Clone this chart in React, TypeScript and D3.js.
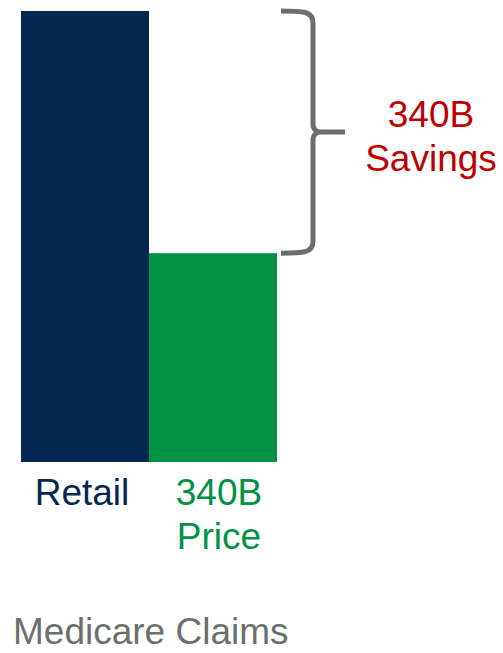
import React from "react";
import * as d3 from "d3";

const categories = ["Retail", "340B Price"];
const values = [100, 46.3];
const labelLines = [["Retail"], ["340B", "Price"]];
const braceLabel = ["340B", "Savings"];
const axisTitle = "Medicare Claims";

const W = 503;
const H = 653;
const FONT = "'Liberation Sans', Arial, Helvetica, sans-serif";
const barColors = ["#032751", "#009245"];
const labelColors = ["#032751", "#009245"];
const FS = 37;

export default function App() {
  const x = d3.scaleBand<string>().domain(categories).range([21, 277]).padding(0);
  const y = d3.scaleLinear().domain([0, 100]).range([462, 11]);
  const bw = x.bandwidth();

  const top = y(values[0]);
  const low = y(values[1]);
  const mid = (top + low) / 2;
  const bx0 = 281;
  const bx1 = 313;
  const tip = 345;
  const r = 12;
  const brace = [
    `M${bx0},${top}`,
    `C${bx0 + 22},${top} ${bx1},${top} ${bx1},${top + r}`,
    `L${bx1},${mid - 8}`,
    `C${bx1},${mid - 2} ${bx1 + 4},${mid} ${bx1 + 8},${mid}`,
    `L${tip},${mid}`,
    `M${bx1 + 8},${mid}`,
    `C${bx1 + 4},${mid} ${bx1},${mid + 2} ${bx1},${mid + 8}`,
    `L${bx1},${low - r}`,
    `C${bx1},${low} ${bx0 + 22},${low} ${bx0},${low}`,
  ].join(" ");

  const labelOffsets = [-3, 6];

  return (
    <svg width={W} height={H} style={{ position: "absolute", left: 0, top: 0 }} fontFamily={FONT}>
      <rect width={W} height={H} fill="#fff" />
      {categories.map((c, i) => (
        <rect key={c} x={x(c)} y={y(values[i])} width={bw} height={y(0) - y(values[i])} fill={barColors[i]} />
      ))}
      <path d={brace} fill="none" stroke="#6b706e" strokeWidth={5} strokeLinejoin="round" />
      {categories.map((c, i) => (
        <text
          key={c}
          x={(x(c) as number) + bw / 2 + labelOffsets[i]}
          y={505}
          fontSize={FS}
          fill={labelColors[i]}
          textAnchor="middle"
        >
          {labelLines[i].map((l, j) => (
            <tspan key={j} x={(x(c) as number) + bw / 2 + labelOffsets[i]} dy={j === 0 ? 0 : 44}>
              {l}
            </tspan>
          ))}
        </text>
      ))}
      <text x={431} y={127} fontSize={FS} fill="#c00000" textAnchor="middle">
        {braceLabel.map((l, j) => (
          <tspan key={j} x={431} dy={j === 0 ? 0 : 44}>
            {l}
          </tspan>
        ))}
      </text>
      <text x={13} y={644} fontSize={FS} fill="#6b706e">
        {axisTitle}
      </text>
    </svg>
  );
}
